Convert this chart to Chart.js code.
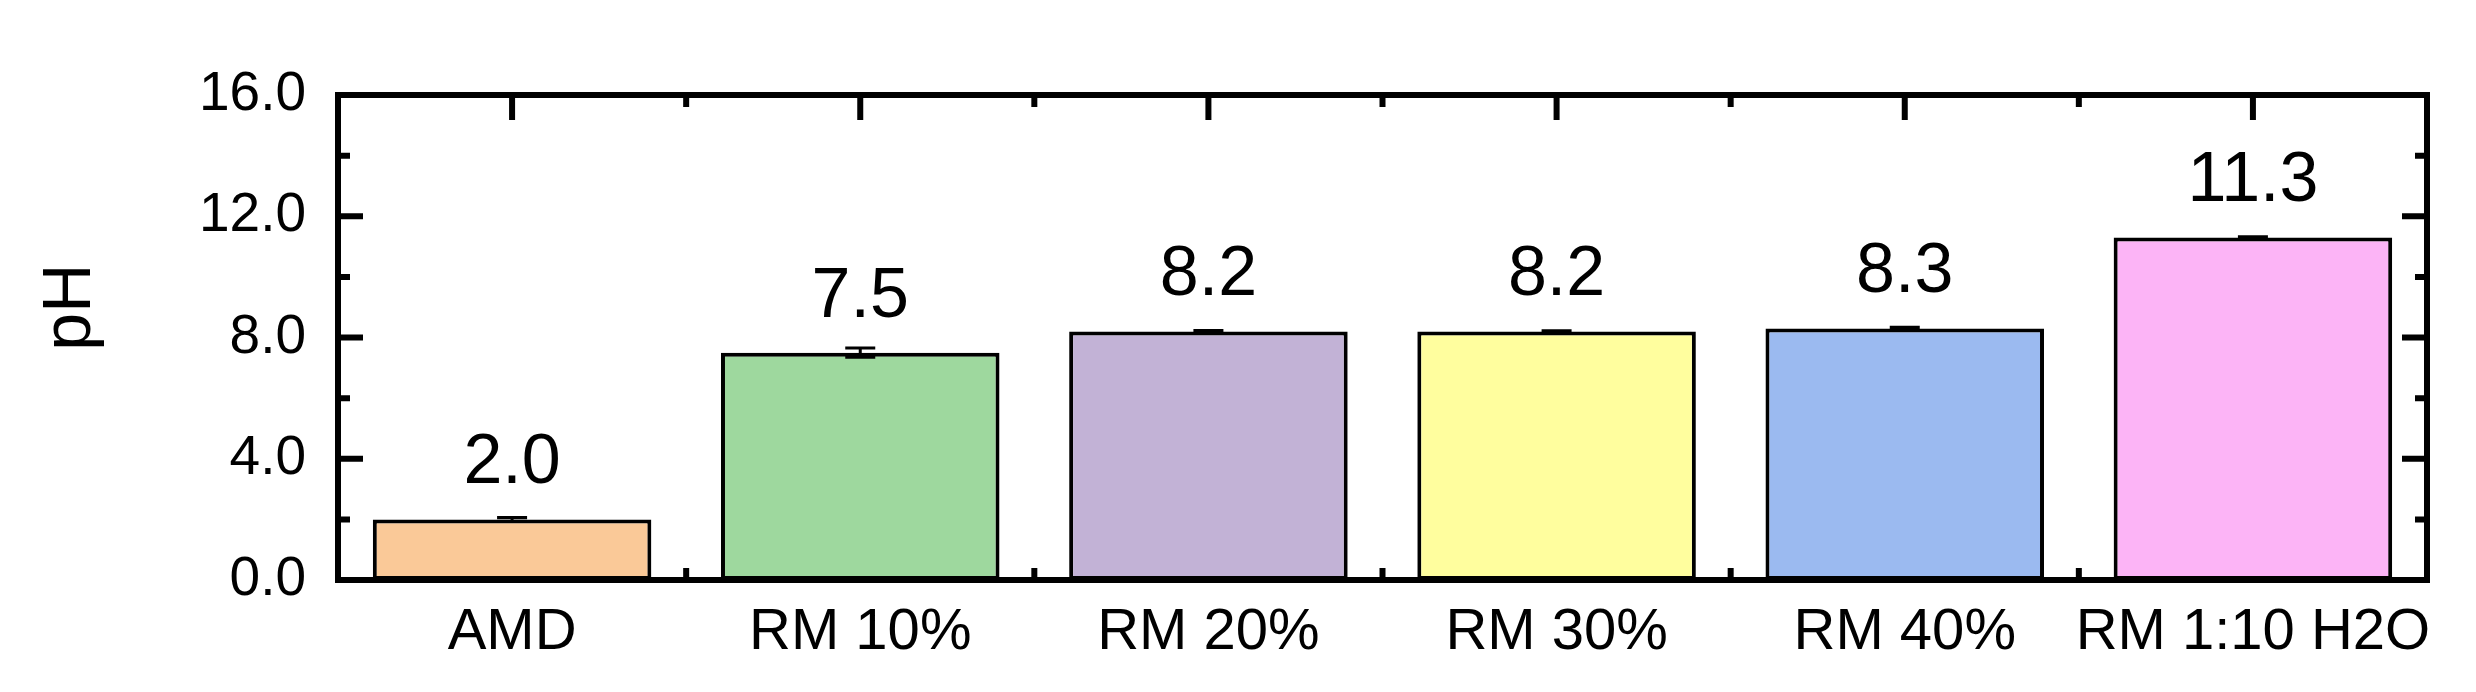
<!DOCTYPE html>
<html>
<head>
<meta charset="utf-8">
<title>pH by sample</title>
<script src="https://cdn.jsdelivr.net/npm/chart.js@4.4.1/dist/chart.umd.min.js"></script>
<style>
    html, body { margin: 0; padding: 0; background: #fff; }
    #wrap { width: 2476px; height: 692px; }
</style>
</head>
<body>
<div id="wrap"><canvas id="barChart" width="2476" height="692"></canvas></div>
<script>
// Data
const categories = ['AMD', 'RM 10%', 'RM 20%', 'RM 30%', 'RM 40%', 'RM 1:10 H2O'];
const phValues = [2.0, 7.5, 8.2, 8.2, 8.3, 11.3];
const phErrors = [0.06, 0.15, 0.03, 0.02, 0.04, 0.02];
const valueLabels = ['2.0', '7.5', '8.2', '8.2', '8.3', '11.3'];
const yMajorTicks = [0, 4, 8, 12, 16];
const yMinorTicks = [2, 6, 10, 14];

// Bar fills
const barColors = ['#FAC998', '#9ED89E', '#C2B2D6', '#FFFE9E', '#9BBAF0', '#FCB4F6'];

Chart.defaults.font.family = "'Liberation Sans', Arial, sans-serif";
Chart.defaults.color = '#000';

// Frame, inward ticks, error bars, value labels and the axis title
const framePlugin = {
    id: 'frame',
    beforeDatasetsDraw(chart) {
        const { ctx, chartArea: a, scales: { x, y } } = chart;
        ctx.save();
        ctx.strokeStyle = '#000';
        ctx.lineWidth = 6;
        ctx.beginPath();
        // y ticks on left and right
        yMajorTicks.forEach(v => {
            const py = y.getPixelForValue(v);
            ctx.moveTo(a.left, py); ctx.lineTo(a.left + 25, py);
            ctx.moveTo(a.right, py); ctx.lineTo(a.right - 25, py);
        });
        yMinorTicks.forEach(v => {
            const py = y.getPixelForValue(v);
            ctx.moveTo(a.left, py); ctx.lineTo(a.left + 12, py);
            ctx.moveTo(a.right, py); ctx.lineTo(a.right - 12, py);
        });
        // x ticks: major at category centres, minor at boundaries
        categories.forEach((c, i) => {
            const px = x.getPixelForValue(i);
            ctx.moveTo(px, a.top); ctx.lineTo(px, a.top + 25);
            ctx.moveTo(px, a.bottom); ctx.lineTo(px, a.bottom - 25);
            if (i > 0) {
                const bx = x.getPixelForValue(i - 0.5);
                ctx.moveTo(bx, a.top); ctx.lineTo(bx, a.top + 12);
                ctx.moveTo(bx, a.bottom); ctx.lineTo(bx, a.bottom - 12);
            }
        });
        ctx.stroke();
        ctx.restore();
    },
    afterDatasetsDraw(chart) {
        const { ctx, chartArea: a, scales: { y } } = chart;
        const meta = chart.getDatasetMeta(0);
        ctx.save();
        // error bars
        ctx.strokeStyle = '#000';
        ctx.lineWidth = 3;
        meta.data.forEach((bar, i) => {
            const hi = y.getPixelForValue(phValues[i] + phErrors[i]);
            const lo = y.getPixelForValue(phValues[i] - phErrors[i]);
            ctx.beginPath();
            ctx.moveTo(bar.x, hi); ctx.lineTo(bar.x, lo);
            ctx.moveTo(bar.x - 15, hi); ctx.lineTo(bar.x + 15, hi);
            ctx.moveTo(bar.x - 15, lo); ctx.lineTo(bar.x + 15, lo);
            ctx.stroke();
        });
        // value labels
        ctx.fillStyle = '#000';
        ctx.font = "70px 'Liberation Sans', Arial, sans-serif";
        ctx.textAlign = 'center';
        ctx.textBaseline = 'alphabetic';
        meta.data.forEach((bar, i) => {
            ctx.fillText(valueLabels[i], bar.x, bar.y - 36);
        });
        // frame
        ctx.lineWidth = 6;
        ctx.strokeRect(a.left, a.top, a.right - a.left, a.bottom - a.top);
        // y axis title, sits a bit above the middle of the axis
        ctx.translate(71, y.getPixelForValue(9));
        ctx.rotate(-Math.PI / 2);
        ctx.textBaseline = 'middle';
        ctx.font = "68px 'Liberation Sans', Arial, sans-serif";
        ctx.fillText('pH', 0, 0);
        ctx.restore();
    }
};

function initBarChart() {
    const ctx = document.getElementById('barChart');
    new Chart(ctx, {
        type: 'bar',
        data: {
            labels: categories,
            datasets: [{
                label: 'pH',
                data: phValues,
                backgroundColor: barColors,
                borderColor: '#000',
                borderWidth: 4,
                borderSkipped: false,
                categoryPercentage: 0.8,
                barPercentage: 1.0
            }]
        },
        options: {
            responsive: false,
            animation: false,
            devicePixelRatio: 1,
            layout: {
                padding: { top: 95, right: 49, left: 0, bottom: 0 }
            },
            plugins: {
                legend: { display: false },
                tooltip: { enabled: false }
            },
            scales: {
                x: {
                    grid: { display: false, drawTicks: false },
                    border: { display: false },
                    ticks: {
                        font: { size: 58 },
                        padding: 18,
                        maxRotation: 0,
                        autoSkip: false
                    },
                    afterFit(scale) { scale.height = 112; }
                },
                y: {
                    min: 0,
                    max: 16,
                    grid: { display: false, drawTicks: false },
                    border: { display: false },
                    ticks: {
                        stepSize: 4,
                        font: { size: 55 },
                        padding: 32,
                        callback: v => v.toFixed(1)
                    },
                    afterFit(scale) { scale.width = 338; }
                }
            }
        },
        plugins: [framePlugin]
    });
}

initBarChart();
</script>
</body>
</html>
